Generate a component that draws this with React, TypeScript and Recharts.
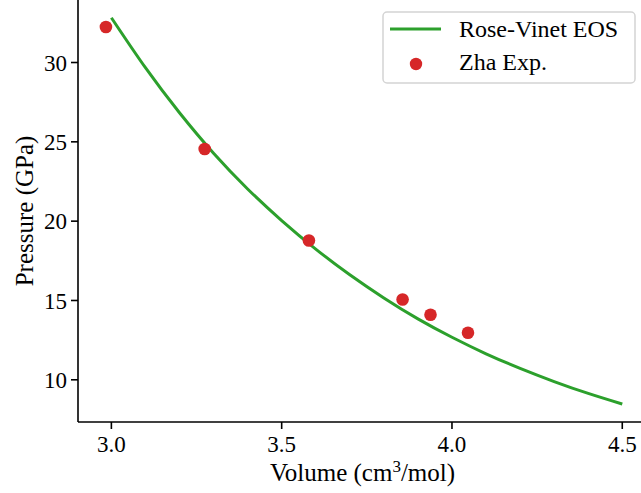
import {
  ComposedChart,
  Line,
  Scatter,
  XAxis,
  YAxis,
  Legend,
  Label
} from "recharts"

// Rose-Vinet EOS curve
const eosVolume = [3.0, 3.1, 3.2, 3.3, 3.4, 3.5, 3.6, 3.7, 3.8, 3.9, 4.0, 4.1, 4.2, 4.3, 4.4, 4.5]
const eosPressure = [32.82, 29.67, 26.83, 24.28, 22.03, 20.04, 18.24, 16.62, 15.16, 13.84, 12.68, 11.64, 10.72, 9.89, 9.14, 8.47]

// Zha experimental points
const expVolume = [2.984, 3.274, 3.58, 3.855, 3.937, 4.047]
const expPressure = [32.24, 24.55, 18.78, 15.06, 14.1, 12.97]

const xTicks = [3.0, 3.5, 4.0, 4.5]
const yTicks = [10, 15, 20, 25, 30]

const GREEN = "#2ca02c"
const RED = "#d62728"
const FONT = '"Liberation Serif", "DejaVu Serif", serif'

const curve = eosVolume.map((v, i) => ({ volume: v, pressure: eosPressure[i] }))
const points = expVolume.map((v, i) => ({ volume: v, pressure: expPressure[i] }))

function LegendBox() {
  return (
    <svg width={254} height={73} style={{ display: "block" }}>
      <rect x={1} y={1} width={252} height={71} rx={4} fill="#fff" stroke="#d4d4d4" strokeWidth={1.5} />
      <line x1={8} y1={18} x2={59} y2={18} stroke={GREEN} strokeWidth={3} />
      <text x={77} y={25.5} fontFamily={FONT} fontSize={24} fill="#000">
        Rose-Vinet EOS
      </text>
      <circle cx={34} cy={53} r={6.2} fill={RED} />
      <text x={77} y={59} fontFamily={FONT} fontSize={24} fill="#000">
        Zha Exp.
      </text>
    </svg>
  )
}

const dot = (props: any) => <circle cx={props.cx} cy={props.cy} r={6.3} fill={RED} />

export default function App() {
  return (
    <div style={{ position: "absolute", left: 0, top: 0, width: 641, height: 493, background: "#fff" }}>
      <ComposedChart width={641} height={493} margin={{ top: 0, right: 0, bottom: 0, left: 0 }}>
        <XAxis
          type="number"
          dataKey="volume"
          domain={[2.902, 4.555]}
          allowDataOverflow
          ticks={xTicks}
          tickFormatter={(v: number) => v.toFixed(1)}
          height={71}
          tickSize={7}
          tickMargin={7}
          axisLine={{ stroke: "#000", strokeWidth: 1.6 }}
          tickLine={{ stroke: "#000", strokeWidth: 1.6 }}
          tick={{ fill: "#000", fontFamily: FONT, fontSize: 23 }}
        >
          <Label
            content={({ viewBox }: any) => (
              <text
                x={viewBox.x + viewBox.width / 2 + 3}
                y={481}
                textAnchor="middle"
                fontFamily={FONT}
                fontSize={25}
                fill="#000"
              >
                Volume (cm
                <tspan dy={-9} fontSize={17}>3</tspan>
                <tspan dy={9}>/mol)</tspan>
              </text>
            )}
          />
        </XAxis>
        <YAxis
          type="number"
          dataKey="pressure"
          domain={[7.34, 33.94]}
          allowDataOverflow
          ticks={yTicks}
          width={78}
          tickSize={7}
          tickMargin={4}
          axisLine={{ stroke: "#000", strokeWidth: 1.6 }}
          tickLine={{ stroke: "#000", strokeWidth: 1.6 }}
          tick={{ fill: "#000", fontFamily: FONT, fontSize: 23 }}
        >
          <Label
            content={({ viewBox }: any) => (
              <text
                x={33}
                y={viewBox.y + viewBox.height / 2}
                transform={`rotate(-90 33 ${viewBox.y + viewBox.height / 2})`}
                textAnchor="middle"
                fontFamily={FONT}
                fontSize={25}
                fill="#000"
              >
                Pressure (GPa)
              </text>
            )}
          />
        </YAxis>
        <Line
          data={curve}
          dataKey="pressure"
          type="natural"
          stroke={GREEN}
          strokeWidth={3}
          dot={false}
          activeDot={false}
          isAnimationActive={false}
          name="Rose-Vinet EOS"
        />
        <Scatter
          data={points}
          dataKey="pressure"
          fill={RED}
          shape={dot}
          isAnimationActive={false}
          name="Zha Exp."
        />
        <Legend
          layout="horizontal"
          verticalAlign="middle"
          align="center"
          content={() => <LegendBox />}
          wrapperStyle={{ top: 11, left: 382, width: 254, height: 73 }}
        />
      </ComposedChart>
    </div>
  )
}
